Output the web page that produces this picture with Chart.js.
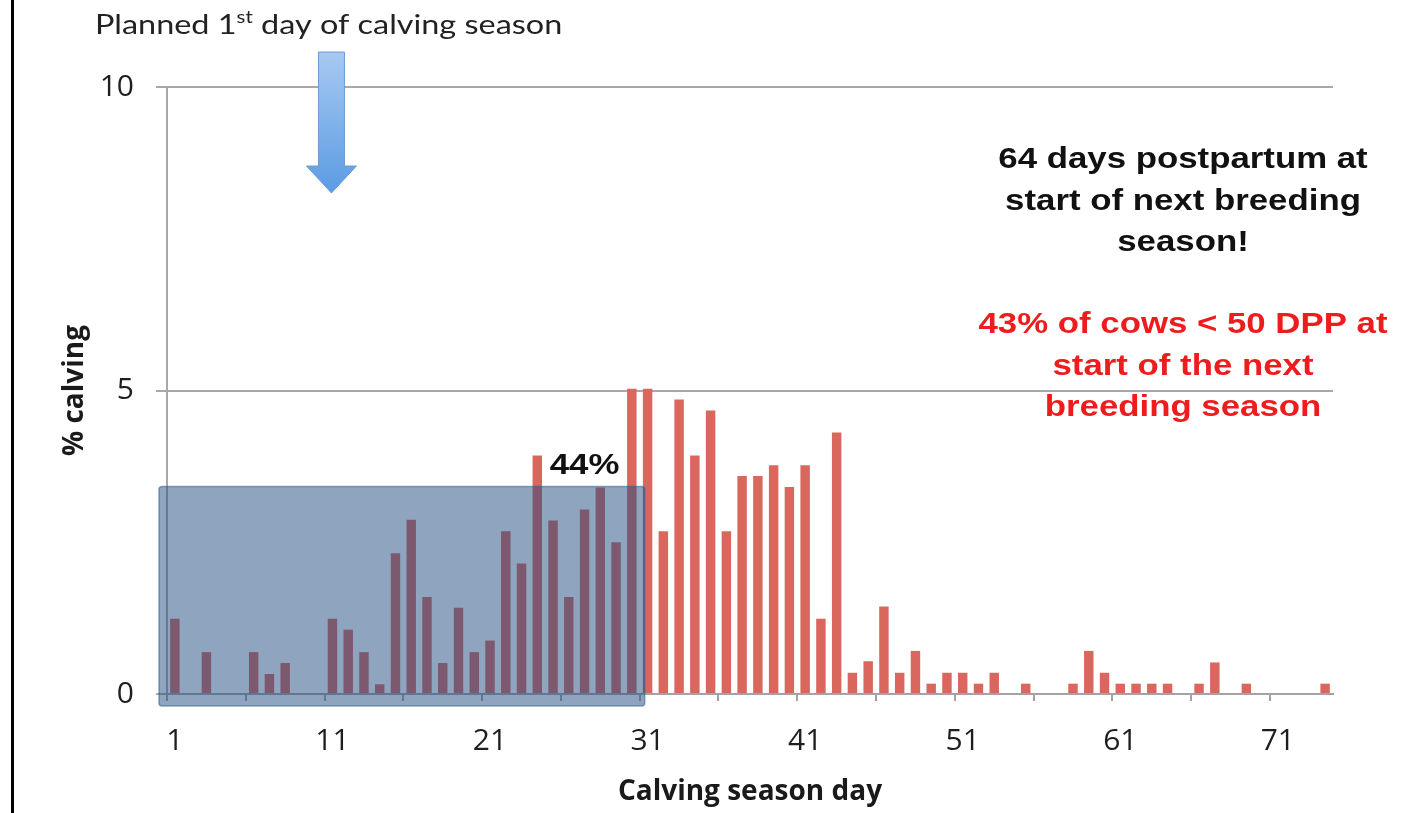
<!DOCTYPE html>
<html>
<head>
<meta charset="utf-8">
<script src="https://cdn.jsdelivr.net/npm/chart.js@4.4.1/dist/chart.umd.min.js"></script>
<style>
  html, body { margin: 0; padding: 0; background: #fff; }
  #wrap { position: relative; width: 1408px; height: 813px; }
</style>
</head>
<body>
<div id="wrap"><canvas id="calving-chart"></canvas></div>
<script>
// calving season day 1..74
const days = Array.from({ length: 74 }, (_, i) => String(i + 1));
const pctCalving = [
  1.24, 0, 0.69, 0, 0, 0.69, 0.33, 0.51, 0, 0,
  1.24, 1.06, 0.69, 0.16, 2.32, 2.87, 1.6, 0.51, 1.42, 0.69,
  0.88, 2.68, 2.15, 3.93, 2.86, 1.6, 3.04, 3.4, 2.5, 5.03,
  5.03, 2.68, 4.85, 3.93, 4.67, 2.68, 3.59, 3.59, 3.77, 3.41,
  3.77, 1.24, 4.31, 0.35, 0.54, 1.44, 0.35, 0.71, 0.17, 0.35,
  0.35, 0.17, 0.35, 0, 0.17, 0, 0, 0.17, 0.71, 0.35,
  0.17, 0.17, 0.17, 0.17, 0, 0.17, 0.52, 0, 0.17, 0,
  0, 0, 0, 0.17,
];
const yTicks = [0, 5, 10];
const shadedDays = [1, 30];      // first 30 days of the season
const shadedTop = 3.42;          // height of the shaded box, % calving
const plannedDay = 11;           // arrow: planned first day
const shadedLabel = '44%';
const notesBlack = ['64 days postpartum at', 'start of next breeding', 'season!'];
const notesRed = ['43% of cows < 50 DPP at', 'start of the next', 'breeding season'];

const SX = 1.2; // the slide text is stretched horizontally

function stretchText(ctx, text, x, y, align) {
  ctx.save();
  ctx.translate(x, y);
  ctx.scale(SX, 1);
  ctx.textAlign = align;
  ctx.fillText(text, 0, 0);
  ctx.restore();
}

const annotations = {
  id: 'annotations',
  afterDatasetsDraw(chart) {
    const { ctx, scales: { x, y } } = chart;
    const half = (x.getPixelForValue(1) - x.getPixelForValue(0)) / 2;
    const left = x.getPixelForValue(shadedDays[0] - 1) - half - 8;
    const right = x.getPixelForValue(shadedDays[1] - 1) + half + 5;
    const top = y.getPixelForValue(shadedTop);
    const bottom = y.getPixelForValue(0) + 12;
    ctx.save();
    ctx.beginPath();
    ctx.roundRect(left, top, right - left, bottom - top, 3);
    ctx.fillStyle = 'rgba(31, 75, 127, 0.5)';
    ctx.fill();
    ctx.strokeStyle = 'rgba(50, 95, 150, 0.55)';
    ctx.lineWidth = 1.5;
    ctx.stroke();
    ctx.restore();
  },
  afterDraw(chart) {
    const { ctx, chartArea, scales: { x, y } } = chart;
    ctx.save();

    // slide frame on the left
    ctx.fillStyle = '#000';
    ctx.fillRect(11, 0, 3, chart.height);

    // arrow pointing at the planned first day
    const ax = x.getPixelForValue(plannedDay - 1) - 1;
    const shaftTop = chartArea.top - 35;
    const headTop = chartArea.top + 79;
    const tip = chartArea.top + 106;
    const grad = ctx.createLinearGradient(0, shaftTop, 0, tip);
    grad.addColorStop(0, '#a7c8f1');
    grad.addColorStop(1, '#5b9ce3');
    ctx.beginPath();
    ctx.moveTo(ax - 13, shaftTop);
    ctx.lineTo(ax + 13, shaftTop);
    ctx.lineTo(ax + 13, headTop);
    ctx.lineTo(ax + 25, headTop);
    ctx.lineTo(ax, tip);
    ctx.lineTo(ax - 25, headTop);
    ctx.lineTo(ax - 13, headTop);
    ctx.closePath();
    ctx.fillStyle = grad;
    ctx.fill();
    ctx.strokeStyle = '#6c9bd6';
    ctx.lineWidth = 1;
    ctx.stroke();

    // heading with superscript
    ctx.fillStyle = '#222';
    ctx.textBaseline = 'alphabetic';
    let tx = 95;
    const parts = [
      ['Planned 1', '27px Lato', 34],
      ['st', '17px Lato', 23],
      [' day of calving season', '27px Lato', 34],
    ];
    parts.forEach(([text, font, by]) => {
      ctx.font = font;
      stretchText(ctx, text, tx, by, 'left');
      tx += ctx.measureText(text).width * SX;
    });

    // right side notes
    const cx = 1183;
    ctx.font = 'bold 29px "Liberation Sans", Arial, sans-serif';
    ctx.fillStyle = '#111';
    notesBlack.forEach((line, i) => stretchText(ctx, line, cx, 168 + i * 41.7, 'center'));
    ctx.fillStyle = '#ee1c1c';
    notesRed.forEach((line, i) => stretchText(ctx, line, cx, 333 + i * 41.7, 'center'));

    // label on the shaded box
    ctx.fillStyle = '#111';
    stretchText(ctx, shadedLabel, x.getPixelForValue(26), y.getPixelForValue(shadedTop) - 12, 'center');

    ctx.restore();
  },
};

Chart.defaults.font.family = '"Open Sans", sans-serif';
Chart.defaults.color = '#222';

new Chart(document.getElementById('calving-chart'), {
  type: 'bar',
  data: {
    labels: days,
    datasets: [{
      label: '% calving',
      data: pctCalving,
      backgroundColor: '#d9675e',
      barPercentage: 0.6,
      categoryPercentage: 1,
    }],
  },
  options: {
    responsive: true,
    maintainAspectRatio: false,
    animation: false,
    layout: { padding: { top: 87, right: 75, bottom: 0, left: 14 } },
    plugins: { legend: { display: false }, tooltip: { enabled: false } },
    scales: {
      x: {
        offset: true,
        afterFit(scale) { scale.height = 119; },
        grid: {
          offset: true,
          drawOnChartArea: false,
          drawTicks: true,
          tickLength: 7,
          lineWidth: 2,
          color: ctx => (ctx.index % 5 === 0 ? '#a3a3a3' : 'rgba(0,0,0,0)'),
        },
        border: { display: true, color: '#a3a3a3', width: 2 },
        ticks: {
          autoSkip: false,
          maxRotation: 0,
          padding: 22,
          font: { size: 30 },
          color: '#1e1e1e',
          callback: (value, index) => (index % 10 === 0 ? days[index] : ''),
        },
        title: {
          display: true,
          text: 'Calving season day',
          font: { size: 28, weight: 'bold' },
          color: '#1a1a1a',
          padding: { top: 0, bottom: 4 },
        },
      },
      y: {
        min: 0,
        max: 10,
        afterFit(scale) { scale.width = 153; },
        afterBuildTicks(scale) { scale.ticks = yTicks.map(v => ({ value: v })); },
        grid: { color: '#a8a8a8', lineWidth: 2, tickLength: 11 },
        border: { display: true, color: '#a8a8a8', width: 2 },
        ticks: { padding: 22, font: { size: 30 }, color: '#1e1e1e' },
        title: {
          display: true,
          text: '% calving',
          font: { size: 28, weight: 'bold' },
          color: '#1a1a1a',
          padding: { top: 44, bottom: 0 },
        },
      },
    },
  },
  plugins: [annotations],
});
</script>
</body>
</html>
